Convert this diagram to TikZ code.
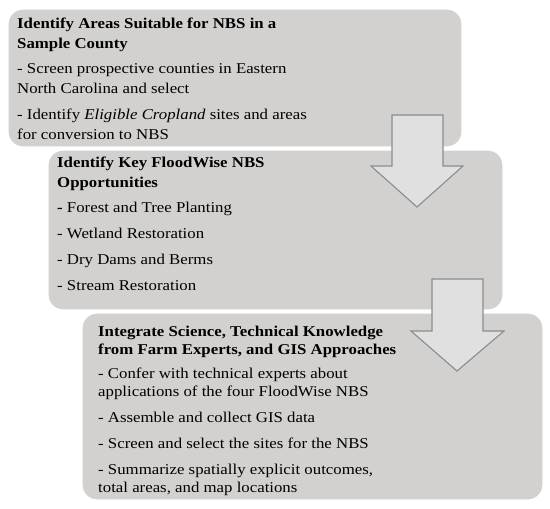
\documentclass[tikz,border=0pt]{standalone}
\usepackage{fontspec}
\setmainfont[FakeStretch=1.12]{Liberation Serif}
\definecolor{boxfill}{HTML}{D2D1D0}
\definecolor{arrfill}{HTML}{E0E0E0}
\definecolor{arrdraw}{HTML}{8C8C8C}
\begin{document}
\begin{tikzpicture}[x=1pt,y=-1pt,
  panel/.style={fill=boxfill,draw=white,line width=1.2pt,rounded corners=15pt},
  txt/.style={anchor=north west,inner sep=0pt,align=left,font=\fontsize{15}{19.5}\selectfont},
  blockarrow/.style={fill=arrfill,draw=arrdraw,line width=1.1pt,line join=miter}]
\useasboundingbox (0,0) rectangle (550,509);
\fill[white] (0,0) rectangle (550,509);
% panels
\draw[panel] (8,9) rectangle (462,147);
\draw[panel] (48,150) rectangle (503,310);
\draw[panel] (82,313) rectangle (543,500);
% texts
\node[txt] (t1) at (17,18) {\textbf{Identify Areas Suitable for NBS in a}\\\textbf{Sample County}\\[6pt]
- Screen prospective counties in Eastern\\North Carolina and select\\[7pt]
- Identify \textit{Eligible Cropland} sites and areas\\for conversion to NBS};
\node[txt] (t2) at (57,157) {\textbf{Identify Key FloodWise NBS}\\\textbf{Opportunities}\\[6pt]
\textbf{-} Forest and Tree Planting\\[6.5pt]
- Wetland Restoration\\[6.5pt]
- Dry Dams and Berms\\[6.5pt]
- Stream Restoration};
\node[txt] (t3) at (98,326) {\textbf{Integrate Science, Technical Knowledge}\\[-1.5pt]\textbf{from Farm Experts, and GIS Approaches}\\[4pt]
- Confer with technical experts about\\[-1pt]applications of the four FloodWise NBS\\[6.5pt]
- Assemble and collect GIS data\\[6.5pt]
- Screen and select the sites for the NBS\\[6.5pt]
- Summarize spatially explicit outcomes,\\[-1.5pt]total areas, and map locations};
% block arrows
\draw[blockarrow] (392,115) -- (443,115) -- (443,166) -- (463,166) -- (417,207) -- (371,166) -- (392,166) -- cycle;
\draw[blockarrow] (432,279) -- (483,279) -- (483,331) -- (504,331) -- (457,371) -- (411,331) -- (432,331) -- cycle;
\end{tikzpicture}
\end{document}
